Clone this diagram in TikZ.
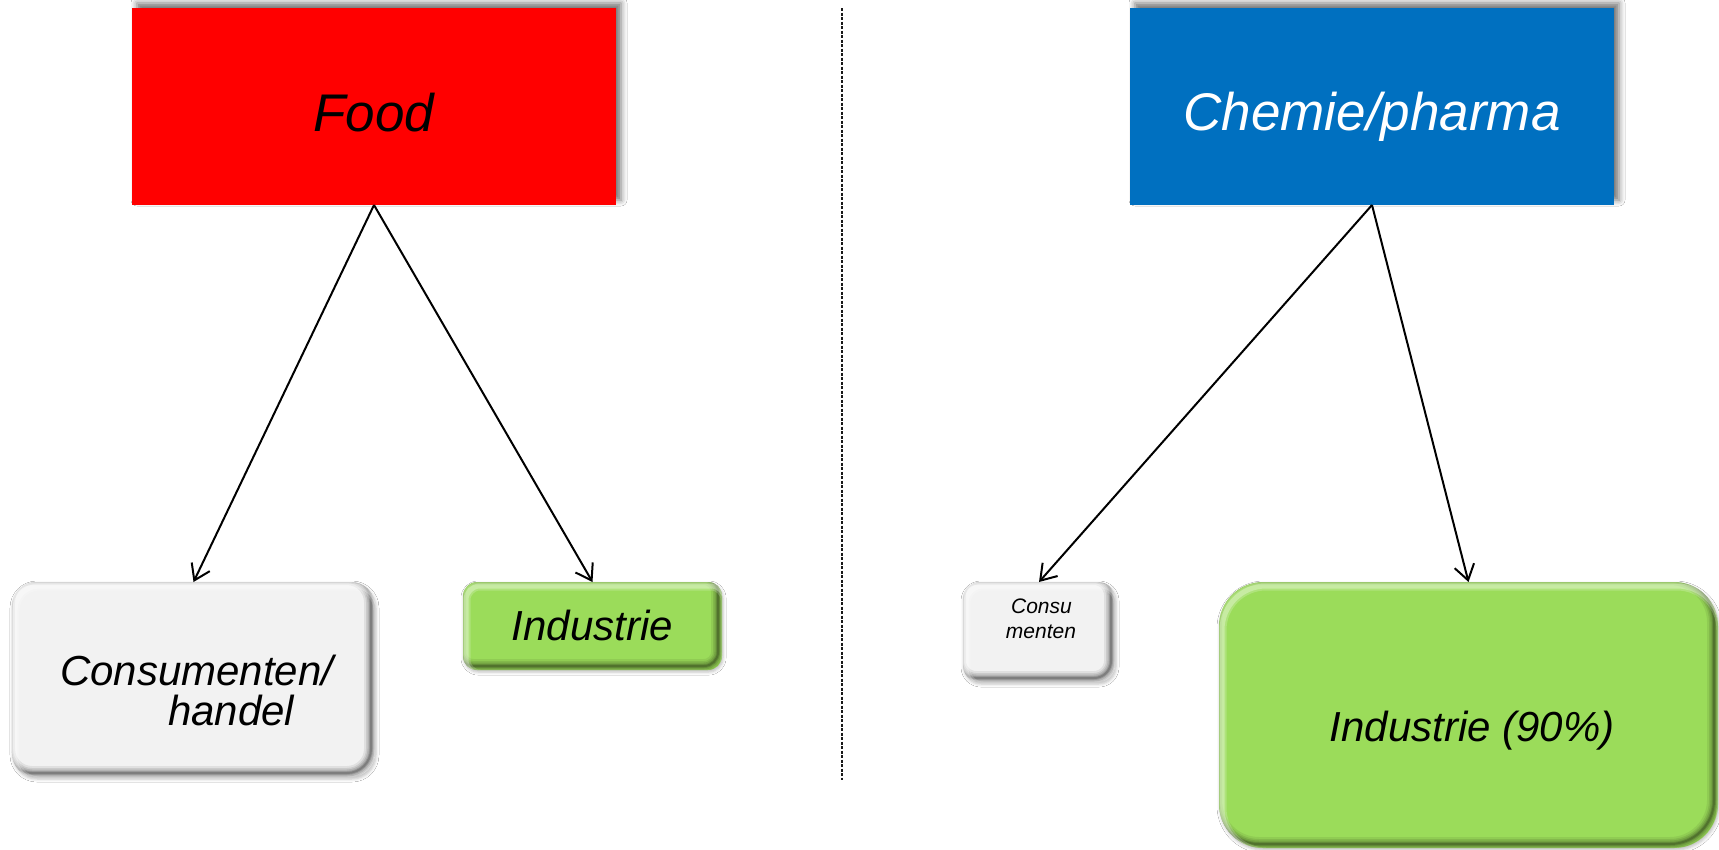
\documentclass[tikz,border=0pt]{standalone}
\usepackage{fontspec}
\setmainfont{Liberation Sans}
\usetikzlibrary{arrows.meta,shadows.blur}
\definecolor{foodred}{HTML}{FF0000}
\definecolor{chemblue}{HTML}{0070C0}
\definecolor{boxgreen}{HTML}{9BDC5A}
\definecolor{boxgrey}{HTML}{F2F2F2}
\tikzset{
  topbox/.style={rectangle, draw=none, inner sep=0pt, outer sep=0pt,
    blur shadow={shadow xshift=5bp, shadow yshift=5bp, shadow blur radius=6bp, shadow opacity=55}},
  bevbox/.style={rectangle, draw=none, inner sep=0pt, outer sep=0pt, rounded corners=#1,
    blur shadow={shadow xshift=1bp, shadow yshift=-2bp, shadow blur radius=3bp, shadow opacity=25},
    path picture={
      \foreach \w/\o in {14/0.07,10/0.09,7/0.11,4/0.14,2/0.18}{
        \draw[line width=\w bp, black, opacity=\o, rounded corners=#1]
          ([xshift=-4bp,yshift=4bp]path picture bounding box.south west) rectangle
          ([xshift=-4bp,yshift=4bp]path picture bounding box.north east);}
      \foreach \w/\o in {9/0.2,5/0.3}{
        \draw[line width=\w bp, white, opacity=\o, rounded corners=#1]
          ([xshift=3bp,yshift=-4bp]path picture bounding box.south west) rectangle
          ([xshift=3bp,yshift=-4bp]path picture bounding box.north east);}
    }},
  bigtxt/.style={font=\fontsize{53bp}{60bp}\selectfont\itshape},
  midtxt/.style={font=\fontsize{42bp}{48bp}\selectfont\itshape, inner sep=0pt},
  smalltxt/.style={font=\fontsize{21bp}{25bp}\selectfont\itshape, inner sep=0pt},
  conn/.style={line width=2bp, black, -{Straight Barb[length=15bp,width=20bp,line width=2bp]}},
  divider/.style={line width=1.5bp, black!90, dash pattern=on 3bp off 1.5bp}
}
\begin{document}
\begin{tikzpicture}[x={(1bp,0)}, y={(0,-1bp)}]
\useasboundingbox (0,0) rectangle (1719,850);
\fill[white] (0,0) rectangle (1719,850);

% top boxes
\node[topbox, fill=foodred, minimum width=484bp, minimum height=197bp,
      bigtxt, text height=49bp, text depth=0bp] (food) at (374,106.5) {Food};
\node[topbox, fill=chemblue, minimum width=484bp, minimum height=197bp,
      bigtxt, text=white, text height=48bp, text depth=0bp] (chem) at (1372,106.5) {Chemie/pharma};

% bottom boxes
\node[bevbox=24bp, fill=boxgrey, minimum width=363bp, minimum height=195bp] (cons) at (193.5,679.5) {};
\node[midtxt, anchor=base west] (consA) at (60,685) {Consumenten/};
\node[midtxt, anchor=base west] (consB) at (168,725) {handel};

\node[bevbox=14bp, fill=boxgreen, minimum width=259bp, minimum height=88bp,
      midtxt, text height=28bp, text depth=0bp] (ind) at (592.5,626) {Industrie};

\node[bevbox=17bp, fill=boxgrey, minimum width=152bp, minimum height=100bp] (consu) at (1039,632) {};
\node[smalltxt, anchor=base] (consuA) at (1041.5,613) {Consu};
\node[smalltxt, anchor=base] (consuB) at (1041,638) {menten};

\node[bevbox=44bp, fill=boxgreen, minimum width=499bp, minimum height=266bp] (ind90) at (1468.5,715) {};
\node[midtxt, anchor=base] (ind90t) at (1472,741) {Industrie (90\%)};

% connectors
\draw[conn] (food.south) -- (cons.north);
\draw[conn] (food.south) -- (ind.north);
\draw[conn] (chem.south) -- (consu.north);
\draw[conn] (chem.south) -- (ind90.north);

% divider
\coordinate (dtop) at (842,8);
\coordinate (dbot) at (842,780);
\draw[divider] (dtop) -- (dbot);
\end{tikzpicture}
\end{document}
